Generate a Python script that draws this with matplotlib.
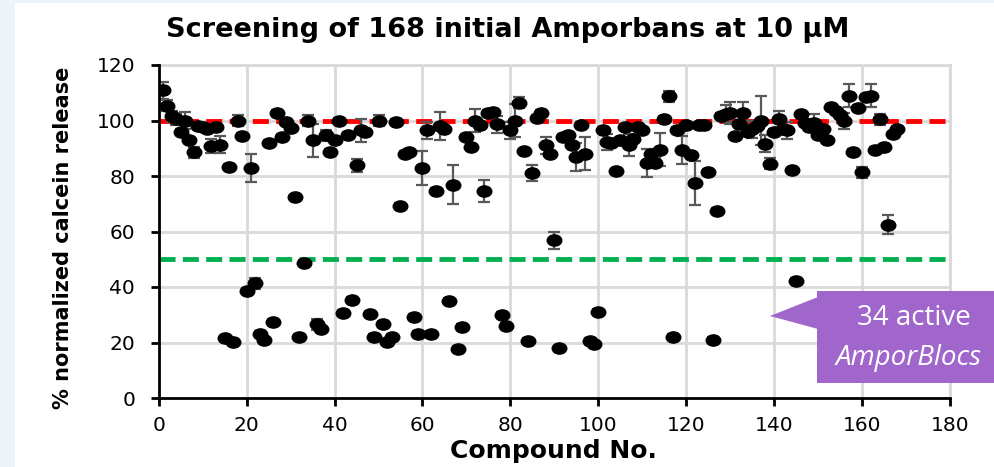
#!/usr/bin/env python3
"""Amporban screening scatter with error bars."""

import matplotlib
matplotlib.use("Agg")
import matplotlib.pyplot as plt
from matplotlib.patches import Polygon, Rectangle
from matplotlib.path import Path
from matplotlib.transforms import Affine2D


# normalized calcein release for compounds 1..168
release = [
    110.9, 105.4, 101.5, 100.4, 95.8, 100.0, 92.8, 88.6, 98.0, 97.6,
    97.0, 90.8, 97.6, 91.3, 21.5, 83.4, 20.3, 100.0, 94.4, 38.7,
    82.9, 41.4, 23.1, 20.9, 91.9, 27.3, 102.8, 94.0, 99.4, 97.4,
    72.3, 21.9, 48.6, 100.0, 92.8, 26.6, 24.8, 94.6, 88.6, 92.8,
    100.0, 30.6, 94.7, 35.4, 83.8, 96.4, 96.0, 30.3, 21.9, 100.0,
    26.7, 20.3, 21.9, 99.6, 69.3, 88.0, 88.6, 29.1, 23.0, 82.9,
    96.5, 23.0, 74.7, 97.9, 97.0, 35.1, 76.9, 17.6, 25.5, 94.1,
    90.5, 100.0, 98.2, 74.7, 102.8, 103.0, 98.6, 30.0, 26.1, 96.4,
    100.0, 106.4, 88.9, 20.5, 81.1, 101.0, 102.8, 91.0, 88.1, 56.8,
    17.9, 94.0, 94.6, 91.0, 86.8, 98.3, 88.1, 20.6, 19.5, 30.9,
    96.5, 92.3, 92.0, 81.7, 92.8, 97.6, 91.1, 93.4, 97.6, 96.4,
    84.7, 88.1, 84.7, 89.5, 100.6, 108.8, 22.1, 96.5, 89.3, 98.2,
    87.4, 77.5, 98.2, 98.2, 81.5, 20.9, 67.5, 101.8, 102.5, 102.8,
    94.3, 98.6, 102.8, 95.8, 96.8, 98.0, 100.0, 91.7, 84.4, 95.8,
    100.4, 96.8, 96.4, 82.0, 42.3, 102.2, 99.2, 97.6, 99.2, 94.6,
    96.8, 93.1, 104.9, 103.4, 102.0, 99.8, 109.0, 88.6, 104.6, 81.3,
    108.5, 109.0, 89.3, 100.4, 90.5, 62.5, 95.0, 97.0,
]

# standard deviations (small ones hide behind the markers)
errors = [
    3.0, 2.0, 2.0, 2.0, 1.0, 3.0, 1.0, 2.0, 1.0, 1.0,
    1.0, 2.5, 1.0, 3.0, 1.0, 1.0, 1.0, 2.0, 1.0, 1.0,
    5.0, 2.0, 1.0, 1.0, 1.0, 1.0, 1.0, 1.0, 1.0, 1.0,
    1.0, 1.0, 1.0, 2.0, 6.0, 2.0, 1.0, 2.0, 1.0, 1.0,
    1.0, 1.0, 1.0, 1.0, 2.5, 4.0, 1.0, 1.0, 1.0, 2.0,
    1.0, 1.0, 1.0, 1.0, 1.0, 1.0, 1.0, 1.0, 1.0, 6.0,
    3.0, 1.0, 1.0, 5.0, 1.0, 1.0, 7.0, 1.0, 1.0, 1.0,
    1.0, 4.0, 1.0, 4.0, 1.0, 1.0, 3.0, 1.0, 1.0, 3.0,
    6.0, 2.0, 1.0, 1.0, 3.0, 1.0, 1.0, 3.0, 1.0, 3.0,
    1.0, 1.0, 1.0, 1.0, 5.0, 1.0, 6.0, 1.0, 1.0, 1.0,
    1.0, 3.0, 1.0, 1.0, 1.0, 1.0, 4.0, 1.0, 1.0, 1.0,
    5.0, 1.0, 1.0, 6.0, 1.0, 2.0, 1.0, 1.0, 5.0, 1.0,
    1.0, 8.0, 1.0, 1.0, 1.0, 1.0, 1.0, 1.0, 3.0, 4.0,
    1.0, 1.0, 4.0, 1.0, 3.0, 1.0, 9.0, 3.0, 2.0, 1.0,
    3.0, 1.0, 3.0, 1.0, 1.0, 1.0, 1.0, 1.0, 3.0, 1.0,
    1.0, 1.0, 1.0, 1.0, 1.0, 3.0, 4.0, 1.0, 1.0, 2.0,
    1.0, 4.0, 1.0, 2.0, 1.0, 3.5, 1.0, 1.0,
]

compounds = list(range(1, len(release) + 1))
inactive_level = 100
active_threshold = 50
x_ticks = list(range(0, 181, 20))
y_ticks = list(range(0, 121, 20))

W, H = 994, 467
fig = plt.figure(figsize=(W / 100, H / 100), dpi=100, facecolor="#edf5fc")
fig.patches.append(Rectangle((15 / W, 0), 1, 1 - 3 / H, transform=fig.transFigure,
                             facecolor="white", edgecolor="none", zorder=-5))

ax = fig.add_axes([158.7 / W, 1 - 398 / H, (950 - 158.7) / W, (398 - 65) / H])
ax.set_facecolor("none")
ax.set_xlim(0, 180)
ax.set_ylim(0, 120)
ax.set_xticks(x_ticks)
ax.set_yticks(y_ticks)
ax.grid(True, color="#d9d9d9", linewidth=2)
ax.set_axisbelow(True)
for side in ("top", "right"):
    ax.spines[side].set_visible(False)
for side in ("left", "bottom"):
    ax.spines[side].set_linewidth(2)
    ax.spines[side].set_zorder(5)
ax.tick_params(axis="both", length=6, width=2, labelsize=14.5, colors="black")
ax.tick_params(axis="y", pad=11)
ax.tick_params(axis="x", pad=7)

# gridline along the top and right edge
ax.axhline(120, color="#d9d9d9", linewidth=2, zorder=0.5, clip_on=False)
ax.axvline(180, color="#d9d9d9", linewidth=2, zorder=0.5, clip_on=False)

ax.axhline(inactive_level, color="#ff0000", linewidth=3.5, dashes=(3.3, 1.5), zorder=2)
ax.axhline(active_threshold, color="#00b050", linewidth=3.5, dashes=(3.3, 1.5), zorder=2)

ax.errorbar(compounds, release, yerr=errors, fmt="none", ecolor="#595959",
            elinewidth=1.6, capsize=4, capthick=1.6, zorder=3)
ellipse = Path.unit_circle().transformed(Affine2D().scale(1.3, 1.0))
ax.plot(compounds, release, linestyle="none", marker=ellipse, markersize=10.5,
        color="black", zorder=4)

fig.text(508 / W, 1 - 30 / H, "Screening of 168 initial Amporbans at 10 µM",
         ha="center", va="center", fontsize=19.5, fontweight="bold")
fig.text(63 / W, 1 - 238 / H, "% normalized calcein release", rotation=90,
         ha="center", va="center", fontsize=15, fontweight="bold")
fig.text(553 / W, 1 - 451 / H, "Compound No.", ha="center", va="center",
         fontsize=18, fontweight="bold")

# callout
purple = "#a066cc"
fig.patches.append(Rectangle((817 / W, 1 - 383 / H), (W - 817) / W, 92 / H,
                             transform=fig.transFigure, facecolor=purple,
                             edgecolor="none", zorder=6))
fig.patches.append(Polygon([(770 / W, 1 - 316 / H), (818 / W, 1 - 297 / H),
                            (818 / W, 1 - 329 / H)], closed=True,
                           transform=fig.transFigure, facecolor=purple,
                           edgecolor="none", zorder=6))
fig.text(914 / W, 1 - 318 / H, "34 active", ha="center", va="center",
         fontsize=20, color="white", family="Open Sans", zorder=7)
fig.text(836 / W, 1 - 358 / H, "AmporBlocs", ha="left", va="center",
         fontsize=20, color="white", family="Open Sans", style="italic", zorder=7)

fig.savefig("out.png", dpi=100, facecolor=fig.get_facecolor())
